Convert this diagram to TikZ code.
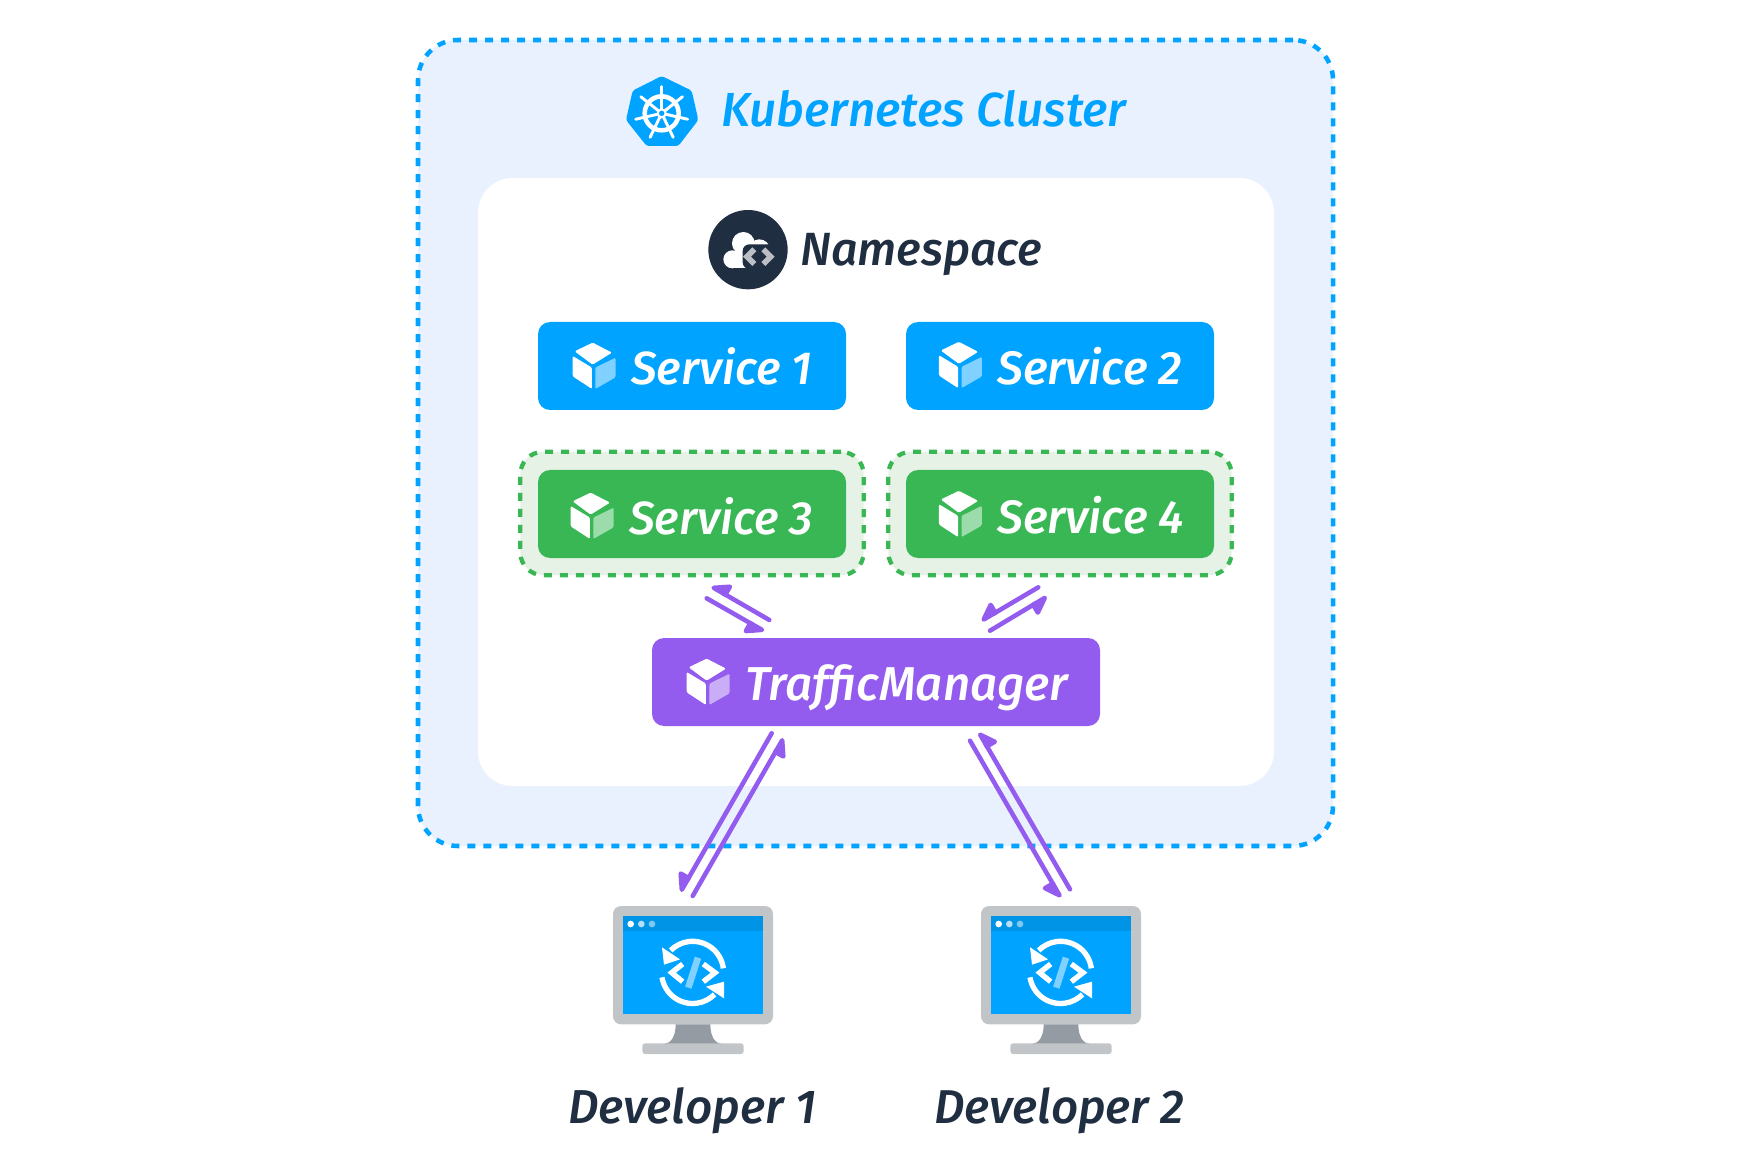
\documentclass[tikz,border=0pt]{standalone}
\usepackage{fontspec}
\usepackage{graphicx}
\usetikzlibrary{arrows.meta,positioning}
\newfontfamily\lblfont[FakeStretch=1.0,ItalicFont={Fira Sans Medium Italic}]{Fira Sans}
\newdimen\pxu \pxu=0.75pt
\newcommand{\fittext}[2]{\resizebox{#1\pxu}{!}{\lblfont\itshape\fontsize{36pt}{40pt}\selectfont #2}}
\definecolor{kblue}{HTML}{00A3FF}
\definecolor{kbar}{HTML}{0094E6}
\definecolor{kfill}{HTML}{E9F1FE}
\definecolor{kdark}{HTML}{202E42}
\definecolor{kgreen}{HTML}{39B755}
\definecolor{kgreenfill}{HTML}{E6F2E6}
\definecolor{kpurple}{HTML}{935BEE}
\definecolor{kgrey}{HTML}{C2C5C8}
\definecolor{kstand}{HTML}{949BA2}
\definecolor{kchev}{HTML}{BBBFC5}
\tikzset{
  x=0.75pt,y=-0.75pt,
  lbl/.style={inner sep=0pt,anchor=base west},
  svcbox/.style={inner sep=0pt,minimum width=231pt,minimum height=66pt,rounded corners=9pt,fill=#1},
  halo/.style={inner sep=0pt,minimum width=257.5pt,minimum height=92.5pt,rounded corners=17pt,fill=kgreenfill,draw=kgreen,line width=3.2pt,dash pattern=on 6pt off 6pt},
  flow/.style={draw=kpurple,line width=3.4pt,line cap=round,line join=round,-{Triangle[harpoon,swap,length=15pt,width=19pt,round]}},
  svccube/.pic={
    \begin{scope}[scale=1/3,rounded corners=1pt]
      \fill[white] (58,-2) -- (116,28) -- (58,64) -- (4,24) -- cycle;
      \fill[white] (-2,38) -- (56,73) -- (56,137) -- (-2,99) -- cycle;
      \fill[white,opacity=.5] (66,73) -- (127,43) -- (127,102) -- (66,137) -- cycle;
    \end{scope}
  },
  kubelogo/.pic={
    \begin{scope}[scale=1/3]
      \fill[kblue,rounded corners=2pt] (125,18) -- (215,62) -- (235,150) -- (175,228) -- (80,228) -- (18,150) -- (38,62) -- cycle;
      \draw[white,line width=3.4pt] (125,130) circle[radius=51];
      \foreach \k in {0,...,6}{
        \draw[white,line width=2.2pt,line cap=round] ({125+12*cos(-90+\k*360/7)},{130+12*sin(-90+\k*360/7)}) -- ({125+80*cos(-90+\k*360/7)},{130+80*sin(-90+\k*360/7)});
      }
      \fill[white] (125,130) circle[radius=15];
      \fill[kblue] (125,130) circle[radius=8];
    \end{scope}
  },
  nsicon/.pic={
    \begin{scope}[scale=1/3]
      \fill[kdark] (144,149) circle[radius=119];
      \fill[white] (97,178) circle[radius=27];
      \fill[white] (130,130) circle[radius=34];
      \fill[white] (178,150) circle[radius=32];
      \fill[white] (97,160) rectangle (170,205);
      \fill[kdark,rounded corners=5pt] (128,133) rectangle (232,207);
      \draw[kchev,line width=4.2pt,line join=miter] (163,148) -- (141,170) -- (163,192);
      \draw[kchev,line width=4.2pt,line join=miter] (190,148) -- (212,170) -- (190,192);
    \end{scope}
  },
  monitor/.pic={
    \begin{scope}[scale=1/3]
      \fill[kgrey,rounded corners=6pt] (69,48) rectangle (549,403);
      \fill[kblue] (100,79) rectangle (518,372);
      \fill[kbar] (100,79) rectangle (518,123);
      \fill[white] (122,102) circle[radius=10];
      \fill[white,opacity=.7] (154,102) circle[radius=10];
      \fill[white,opacity=.5] (186,102) circle[radius=10];
      \fill[kstand] (257,403) -- (361,403) .. controls (361,440) and (375,460) .. (395,462) -- (222,462) .. controls (243,460) and (257,440) .. (257,403) -- cycle;
      \fill[kgrey,rounded corners=2pt] (157,460) rectangle (461,492);
      \draw[white,line width=4pt] (400,235) arc[start angle=-7.4,end angle=-135,radius=93];
      \fill[white] (216,172) -- (270,208) -- (222,224) -- cycle;
      \draw[white,line width=4pt] (216,262) arc[start angle=171,end angle=45,radius=93];
      \fill[white] (402,275) -- (402,325) -- (348,290) -- cycle;
      \draw[white,line width=4pt] (278,222) -- (245,248) -- (278,275);
      \draw[white,line width=4pt] (340,222) -- (375,248) -- (340,275);
      \draw[white!50!kblue,line width=5pt] (324,203) -- (295,293);
    \end{scope}
  }
}
\begin{document}
\begin{tikzpicture}
\useasboundingbox (0,0) rectangle (1752,1176);
% containers
\node[inner sep=0pt,minimum width=686.25pt,minimum height=604.5pt,rounded corners=30pt,fill=kfill,draw=kblue,line width=3.4pt,dash pattern=on 6pt off 6pt] (cluster) at (875.5,443) {};
\node[inner sep=0pt,minimum width=597pt,minimum height=456pt,rounded corners=26pt,fill=white] (namespace) at (876,482) {};
% title row
\pic (kube) at (620,70) {kubelogo};
\node[lbl,text=kblue] (clustertxt) at (721,127) {\fittext{405}{Kubernetes Cluster}};
\pic (ns) at (700,200) {nsicon};
\node[lbl,text=kdark] (nstxt) at (800,266) {\fittext{242}{Namespace}};
% services
\node[svcbox=kblue] (s1) at (692,366) {};
\node[svcbox=kblue] (s2) at (1060,366) {};
\node[halo] (h3) at (692,513.5) {};
\node[halo] (h4) at (1060,513.5) {};
\node[svcbox=kgreen] (s3) at (692,514) {};
\node[svcbox=kgreen] (s4) at (1060,514) {};
\node[svcbox=kpurple,minimum width=336pt] (tm) at (876,682) {};
\pic (c1) at (573.3,343.3) {svccube};
\pic (c2) at (939.5,342.5) {svccube};
\pic (c3) at (571.3,493.3) {svccube};
\pic (c4) at (939.5,491.5) {svccube};
\pic (c5) at (687.3,659.3) {svccube};
\node[lbl,text=white] (s1txt) at (631,385) {\fittext{181}{Service 1}};
\node[lbl,text=white] (s2txt) at (997,385) {\fittext{185}{Service 2}};
\node[lbl,text=white] (s3txt) at (629,534) {\fittext{184}{Service 3}};
\node[lbl,text=white] (s4txt) at (997,533) {\fittext{187}{Service 4}};
\node[lbl,text=white] (tmtxt) at (745,700) {\fittext{323}{TrafficManager}};
% monitors
\pic (m1) at (590,890) {monitor};
\pic (m2) at (958,890) {monitor};
\node[lbl,text=kdark] (d1) at (568,1123) {\fittext{248}{Developer 1}};
\node[lbl,text=kdark] (d2) at (934,1123) {\fittext{250}{Developer 2}};
% connector ends
\coordinate (a1s) at (769.3,620); \coordinate (a1e) at (711.7,586.7);
\coordinate (a2s) at (706.7,598.3); \coordinate (a2e) at (764,631);
\coordinate (a3s) at (1038.3,587.3); \coordinate (a3e) at (981.7,620.7);
\coordinate (a4s) at (990,630.7); \coordinate (a4e) at (1046.7,596.7);
\coordinate (a5s) at (771.7,733.3); \coordinate (a5e) at (680.7,891.7);
\coordinate (a6s) at (692.7,896); \coordinate (a6e) at (783.3,738.3);
\coordinate (a7s) at (1070,889.3); \coordinate (a7e) at (979,732.7);
\coordinate (a8s) at (970,740.7); \coordinate (a8e) at (1060.7,897.3);
\foreach \n in {1,...,8}{ \draw[flow] (a\n s) -- (a\n e); }
\end{tikzpicture}
\end{document}
